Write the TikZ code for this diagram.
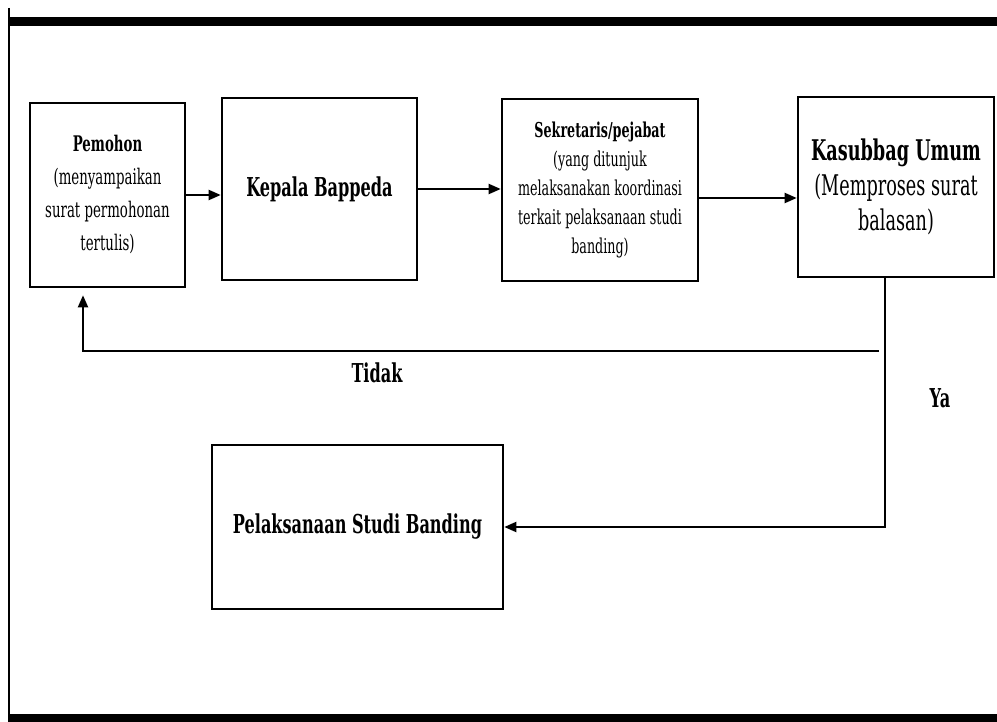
\documentclass[tikz,border=0pt]{standalone}
\usepackage{fontspec}
\setmainfont{DejaVu Serif}[FakeStretch=0.62]
\usetikzlibrary{positioning,arrows.meta,calc}

\tikzset{
  kotak/.style={draw, line width=2.6pt, align=center, inner sep=2pt},
  panah/.style={line width=2pt, -{Triangle[length=12pt,width=10pt]}},
  garis/.style={line width=2pt},
  label/.style={font=\fontsize{26}{30}\selectfont\bfseries}
}

\begin{document}
\begin{tikzpicture}[x=1pt,y=-1pt]
  \useasboundingbox (0,0) rectangle (997,722);
  % bingkai
  \fill (9,17) rectangle (997,26);
  \fill (9,714) rectangle (997,722);
  \draw[line width=2pt] (9,8) -- (9,722);

  % kotak proses
  \node[kotak, minimum width=155pt, minimum height=184pt,
        font=\fontsize{21.5}{33}\selectfont] (pemohon) at (107.5,195)
    {\textbf{Pemohon}\\(menyampaikan\\surat permohonan\\tertulis)};
  \node[kotak, minimum width=195pt, minimum height=182pt,
        font=\fontsize{26}{30}\selectfont\bfseries] (kepala) at (319.5,189)
    {Kepala Bappeda};
  \node[kotak, minimum width=196pt, minimum height=182pt,
        font=\fontsize{20.5}{29}\selectfont] (sekre) at (600,190)
    {\textbf{Sekretaris/pejabat}\\(yang ditunjuk\\melaksanakan koordinasi\\terkait pelaksanaan studi\\banding)};
  \node[kotak, minimum width=196pt, minimum height=180pt,
        font=\fontsize{28.5}{35}\selectfont] (kasub) at (896,187)
    {\textbf{Kasubbag Umum}\\(Memproses surat\\balasan)};
  \node[kotak, minimum width=291pt, minimum height=164pt,
        font=\fontsize{26}{30}\selectfont\bfseries] (pelaksana) at (357.5,527)
    {Pelaksanaan Studi Banding};

  % alur
  \draw[panah] (pemohon.east) -- (pemohon.east -| kepala.west);
  \draw[panah] (kepala.east) -- (kepala.east -| sekre.west);
  \draw[panah] ([yshift=-8pt]sekre.east) -- ([yshift=-8pt]sekre.east -| kasub.west);
  \draw[panah] ([xshift=-11pt]kasub.south) |- (pelaksana.east);
  \coordinate (balik) at (879,351);
  \draw[panah, shorten >=7pt] (balik) -| ([xshift=-24.5pt]pemohon.south);

  \node[label] (tidak) at (377,373) {Tidak};
  \node[label] (ya) at (940,398) {Ya};
\end{tikzpicture}
\end{document}
